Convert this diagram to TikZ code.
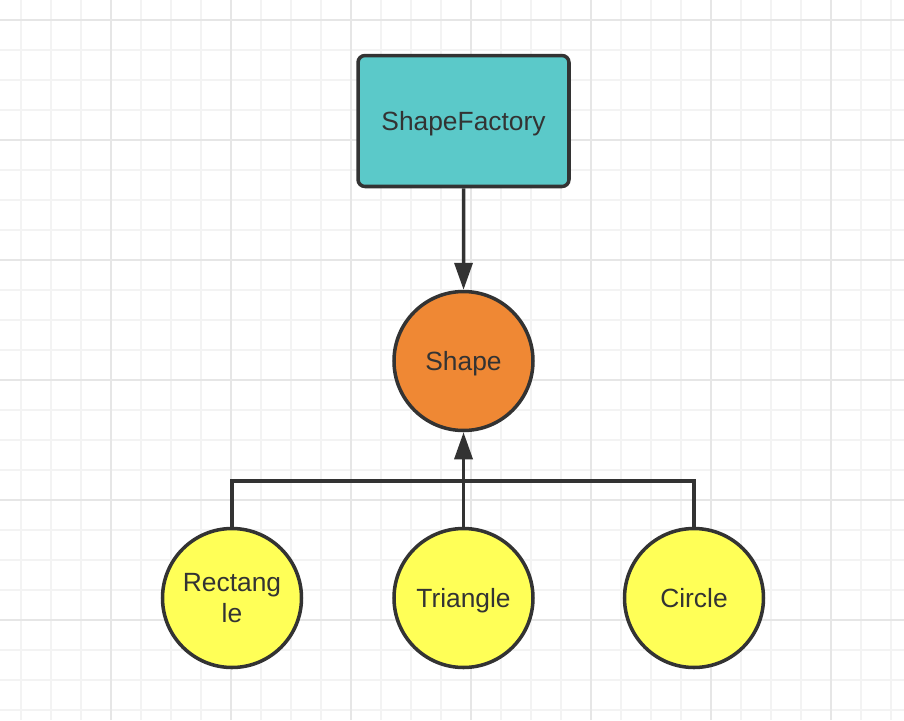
\documentclass[tikz,border=0pt]{standalone}
\usepackage{fontspec}
\setmainfont{Liberation Sans}
\usetikzlibrary{shapes,arrows.meta}
\definecolor{inkgray}{HTML}{333333}
\definecolor{factoryteal}{HTML}{5BC9C9}
\definecolor{shapeorange}{HTML}{EF8834}
\definecolor{kindyellow}{HTML}{FFFF57}
\definecolor{gridminor}{HTML}{F3F3F3}
\definecolor{gridmajor}{HTML}{E6E6E6}

\begin{document}
\begin{tikzpicture}[scale=0.1]
        \tikzstyle{every node}+=[inner sep=0pt, text=inkgray, text depth=0pt, font=\fontsize{7.5}{8.8}\selectfont]
        \tikzstyle{ball}=[circle, draw=inkgray, line width=1pt, minimum size=13.9mm, align=center]
        \tikzstyle{link}=[draw=inkgray, line width=1pt]
        \tikzstyle{head}=[-{Triangle[length=2.7mm,width=1.8mm]}]
        \useasboundingbox [fill=white] (0,0) rectangle (90.4,-72);
        % grid paper
        \foreach \x in {2.1,5.1,...,89.2} \draw [gridminor, line width=0.55pt] (\x,0) -- (\x,-72);
        \foreach \y in {2,5,...,71.1} \draw [gridminor, line width=0.55pt] (0,-\y) -- (90.4,-\y);
        \foreach \x in {11.1,23.1,...,83.2} \draw [gridmajor, line width=0.55pt] (\x,0) -- (\x,-72);
        \foreach \y in {2,14,...,62.1} \draw [gridmajor, line width=0.55pt] (0,-\y) -- (90.4,-\y);
        % nodes
        \node [draw=inkgray, fill=factoryteal, line width=1pt, rounded corners=0.7mm,
               minimum width=21.1mm, minimum height=13.1mm] (factory) at (46.35,-12.1) {ShapeFactory};
        \node [ball, fill=shapeorange] (shape) at (46.35,-36.1) {Shape};
        \node [ball, fill=kindyellow] (rect) at (23.2,-59.8) {Rectang\\le};
        \node [ball, fill=kindyellow] (tri) at (46.35,-59.8) {Triangle};
        \node [ball, fill=kindyellow] (circ) at (69.4,-59.8) {Circle};
        \coordinate (join) at (46.35,-48.1);
        % connectors
        \draw [link, head] (factory) -- (shape);
        \draw [link] (rect.north) |- (join) -| (circ.north);
        \draw [link, head] (tri.north) -- (shape.south);
\end{tikzpicture}
\end{document}
